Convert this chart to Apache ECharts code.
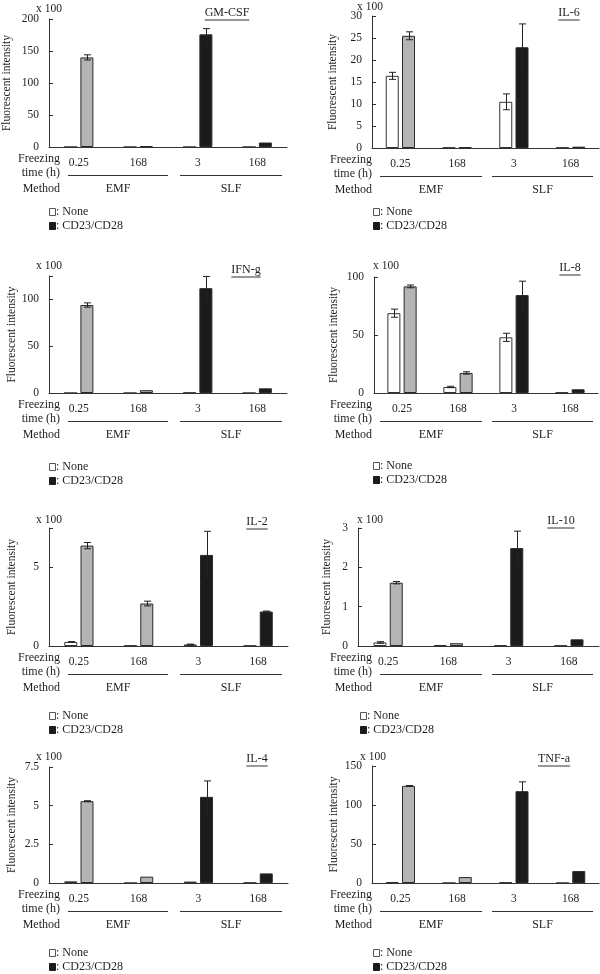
<!DOCTYPE html>
<html>
<head>
<meta charset="utf-8">
<script src="https://cdn.jsdelivr.net/npm/echarts@6/dist/echarts.min.js"></script>
<style>
  body { margin: 0; background: #fff; }
  #chart { width: 600px; height: 974px; }
</style>
</head>
<body>
<div id="chart"></div>
<script>
// x-axis categories (freezing time) and method groups
const freezeTimes = ['0.25', '168', '3', '168'];
const methods = ['EMF', 'SLF'];
const legendNames = ['None', 'CD23/CD28'];

// values are "x 100" fluorescent intensity
const gmcsfNone = [0, 0, 0, 0];
const gmcsfCD = [140, 1.5, 176, 7];
const gmcsfNoneErr = [0, 0, 0, 0];
const gmcsfCDErr = [4, 0, 9, 0];

const il6None = [16.4, 0.1, 10.5, 0.1];
const il6CD = [25.5, 0.2, 22.9, 0.3];
const il6NoneErr = [0.8, 0, 1.8, 0];
const il6CDErr = [0.9, 0, 5.3, 0];

const ifngNone = [0, 0, 0.4, 0];
const ifngCD = [94, 3, 112, 5];
const ifngNoneErr = [0, 0, 0, 0];
const ifngCDErr = [2.3, 0, 12.5, 0];

const il8None = [68.8, 5.2, 48, 0.5];
const il8CD = [91.9, 17.3, 84.4, 3.2];
const il8NoneErr = [3.5, 0.6, 3.5, 0];
const il8CDErr = [1.2, 1, 12, 0];

const il2None = [0.26, 0.03, 0.1, 0.02];
const il2CD = [6.38, 2.7, 5.79, 2.19];
const il2NoneErr = [0.02, 0, 0.02, 0];
const il2CDErr = [0.2, 0.15, 1.5, 0.03];

const il10None = [0.09, 0.025, 0.025, 0.01];
const il10CD = [1.61, 0.07, 2.49, 0.17];
const il10NoneErr = [0.02, 0, 0, 0];
const il10CDErr = [0.03, 0, 0.43, 0];

const il4None = [0.11, 0, 0.09, 0.02];
const il4CD = [5.29, 0.41, 5.57, 0.62];
const il4NoneErr = [0, 0, 0, 0];
const il4CDErr = [0.03, 0, 1.03, 0];

const tnfNone = [1.3, 0, 0.8, 0];
const tnfCD = [124.5, 7.6, 117.7, 15.3];
const tnfNoneErr = [0, 0, 0, 0];
const tnfCDErr = [0.5, 0, 12, 0];

const FONT = '"Liberation Serif", "DejaVu Serif", serif';
const INK = '#1e1e1e';

// panel layout: grid [left, top, width, height], y-axis range, text positions
const panels = [
  { title: 'GM-CSF', none: gmcsfNone, cd: gmcsfCD, noneErr: gmcsfNoneErr, cdErr: gmcsfCDErr,
    max: 200, interval: 50, grid: [49, 19, 238, 128], nameGap: 36,
    x100: [36, 9], titlePos: [227, 13], textRight: 60, segs: [[68, 168], [180, 282]], legend: [49, 212] },
  { title: 'IL-6', none: il6None, cd: il6CD, noneErr: il6NoneErr, cdErr: il6CDErr,
    max: 30, interval: 5, grid: [372, 16, 227, 132], nameGap: 33,
    x100: [357, 7], titlePos: [569, 13], textRight: 372, segs: [[380, 482], [492, 593]], legend: [373, 212] },
  { title: 'IFN-g', none: ifngNone, cd: ifngCD, noneErr: ifngNoneErr, cdErr: ifngCDErr,
    max: 125, interval: 50, grid: [49, 276, 238, 117], nameGap: 31,
    x100: [36, 266], titlePos: [246, 270], textRight: 60, segs: [[68, 168], [180, 282]], legend: [49, 467] },
  { title: 'IL-8', none: il8None, cd: il8CD, noneErr: il8NoneErr, cdErr: il8CDErr,
    max: 100, interval: 50, grid: [374, 277, 224, 116], nameGap: 34,
    x100: [373, 266], titlePos: [570, 268], textRight: 372, segs: [[380, 482], [492, 593]], legend: [373, 466] },
  { title: 'IL-2', none: il2None, cd: il2CD, noneErr: il2NoneErr, cdErr: il2CDErr,
    max: 7.5, interval: 5, grid: [49, 528, 239, 118], nameGap: 31,
    x100: [36, 520], titlePos: [257, 522], textRight: 60, segs: [[68, 168], [180, 282]], legend: [49, 716] },
  { title: 'IL-10', none: il10None, cd: il10CD, noneErr: il10NoneErr, cdErr: il10CDErr,
    max: 3, interval: 1, grid: [358, 528, 241, 118], nameGap: 25,
    x100: [357, 520], titlePos: [561, 521], textRight: 372, segs: [[380, 482], [492, 593]], legend: [360, 716] },
  { title: 'IL-4', none: il4None, cd: il4CD, noneErr: il4NoneErr, cdErr: il4CDErr,
    max: 7.5, interval: 2.5, grid: [49, 767, 239, 116], nameGap: 31,
    x100: [36, 757], titlePos: [257, 759], textRight: 60, segs: [[68, 168], [180, 282]], legend: [49, 953] },
  { title: 'TNF-a', none: tnfNone, cd: tnfCD, noneErr: tnfNoneErr, cdErr: tnfCDErr,
    max: 150, interval: 50, grid: [372, 766, 227, 117], nameGap: 32,
    x100: [360, 757], titlePos: [554, 759], textRight: 372, segs: [[380, 482], [492, 593]], legend: [373, 953] }
];

const BAR_W = 13;
const BAR_GAP = 0.25;
// distance from the category centre to each bar's centre
const BAR_OFF = (BAR_W + BAR_W * BAR_GAP) / 2;

const measure = document.createElement('canvas').getContext('2d');
measure.font = '12px ' + FONT;

function txt(text, x, y, align, size) {
  return {
    type: 'text', silent: true,
    style: { text: text, x: x, y: y, fill: INK, font: (size || 12) + 'px ' + FONT,
      textAlign: align || 'left', textVerticalAlign: 'middle' }
  };
}
function hline(x1, x2, y) {
  return { type: 'line', silent: true, shape: { x1: x1, y1: y, x2: x2, y2: y },
    style: { stroke: '#333', lineWidth: 1 } };
}

function errorBars(offset) {
  return function (params, api) {
    const err = api.value(2);
    if (!err) return;
    const v = api.value(1);
    const hi = api.coord([api.value(0), v + err]);
    const lo = api.coord([api.value(0), Math.max(v - err, 0)]);
    const x = Math.round(hi[0] + offset) + 0.5;
    const cap = 3.5;
    const st = { stroke: '#222', lineWidth: 1 };
    return { type: 'group', children: [
      { type: 'line', shape: { x1: x, y1: hi[1], x2: x, y2: lo[1] }, style: st },
      { type: 'line', shape: { x1: x - cap, y1: hi[1], x2: x + cap, y2: hi[1] }, style: st },
      { type: 'line', shape: { x1: x - cap, y1: lo[1], x2: x + cap, y2: lo[1] }, style: st }
    ] };
  };
}

const grids = [], xAxes = [], yAxes = [], series = [], graphics = [];

panels.forEach(function (p, i) {
  const g = p.grid;
  const bottom = g[1] + g[3];
  grids.push({ left: g[0], top: g[1], width: g[2], height: g[3] });
  xAxes.push({
    type: 'category', gridIndex: i, data: freezeTimes,
    axisLine: { lineStyle: { color: '#333', width: 1 } },
    axisTick: { inside: true, length: 4, lineStyle: { color: '#333' } },
    axisLabel: { margin: 10, color: INK, fontFamily: FONT, fontSize: 11.5 }
  });
  yAxes.push({
    type: 'value', gridIndex: i, min: 0, max: p.max, interval: p.interval,
    name: 'Fluorescent intensity', nameLocation: 'middle', nameGap: p.nameGap,
    nameTextStyle: { color: INK, fontFamily: FONT, fontSize: 11.5 },
    axisLine: { show: true, lineStyle: { color: '#333', width: 1 } },
    axisTick: { show: true, inside: true, length: 4, lineStyle: { color: '#333' } },
    splitLine: { show: false },
    axisLabel: {
      margin: 10, color: INK, fontFamily: FONT, fontSize: 11.5,
      formatter: function (v) {
        const r = v / p.interval;
        return Math.abs(r - Math.round(r)) < 1e-6 ? String(v) : '';
      }
    }
  });

  series.push({
    name: legendNames[0], type: 'bar', xAxisIndex: i, yAxisIndex: i,
    barWidth: BAR_W, barGap: (BAR_GAP * 100) + '%', data: p.none,
    itemStyle: { color: '#ffffff', borderColor: '#333', borderWidth: 1 }
  });
  series.push({
    name: legendNames[1], type: 'bar', xAxisIndex: i, yAxisIndex: i,
    barWidth: BAR_W, barGap: (BAR_GAP * 100) + '%', data: p.cd,
    itemStyle: {
      color: function (d) { return d.dataIndex < 2 ? '#b4b4b4' : '#1b1b1b'; },
      borderColor: '#2a2a2a', borderWidth: 1
    }
  });
  series.push({
    type: 'custom', xAxisIndex: i, yAxisIndex: i, z: 5,
    renderItem: errorBars(-BAR_OFF),
    data: p.none.map(function (v, k) { return [k, v, p.noneErr[k]]; })
  });
  series.push({
    type: 'custom', xAxisIndex: i, yAxisIndex: i, z: 5,
    renderItem: errorBars(BAR_OFF),
    data: p.cd.map(function (v, k) { return [k, v, p.cdErr[k]]; })
  });

  // "x 100" unit and underlined title
  graphics.push(txt('x 100', p.x100[0], p.x100[1], 'left', 11.5));
  graphics.push(txt(p.title, p.titlePos[0], p.titlePos[1], 'center'));
  const tw = measure.measureText(p.title).width;
  graphics.push(hline(p.titlePos[0] - tw / 2, p.titlePos[0] + tw / 2, p.titlePos[1] + 7));

  // row labels under the axis
  graphics.push(txt('Freezing', p.textRight, bottom + 11.5, 'right'));
  graphics.push(txt('time (h)', p.textRight, bottom + 25.5, 'right'));
  graphics.push(txt('Method', p.textRight, bottom + 42, 'right'));
  p.segs.forEach(function (s, k) {
    graphics.push(hline(s[0], s[1], bottom + 28.5));
    graphics.push(txt(methods[k], (s[0] + s[1]) / 2, bottom + 42, 'center'));
  });

  // legend
  const lx = p.legend[0], ly = p.legend[1];
  graphics.push({ type: 'rect', silent: true, shape: { x: lx + 0.5, y: ly - 3.5, width: 6, height: 7 },
    style: { fill: '#fff', stroke: '#555', lineWidth: 1 } });
  graphics.push(txt(': ' + legendNames[0], lx + 7, ly, 'left'));
  graphics.push({ type: 'rect', silent: true, shape: { x: lx + 0.5, y: ly + 10.5, width: 6, height: 7 },
    style: { fill: '#1b1b1b', stroke: '#1b1b1b', lineWidth: 1 } });
  graphics.push(txt(': ' + legendNames[1], lx + 7, ly + 14, 'left'));
});

const chart = echarts.init(document.getElementById('chart'));
chart.setOption({
  animation: false,
  backgroundColor: '#fff',
  grid: grids,
  xAxis: xAxes,
  yAxis: yAxes,
  series: series,
  graphic: graphics
});
</script>
</body>
</html>
